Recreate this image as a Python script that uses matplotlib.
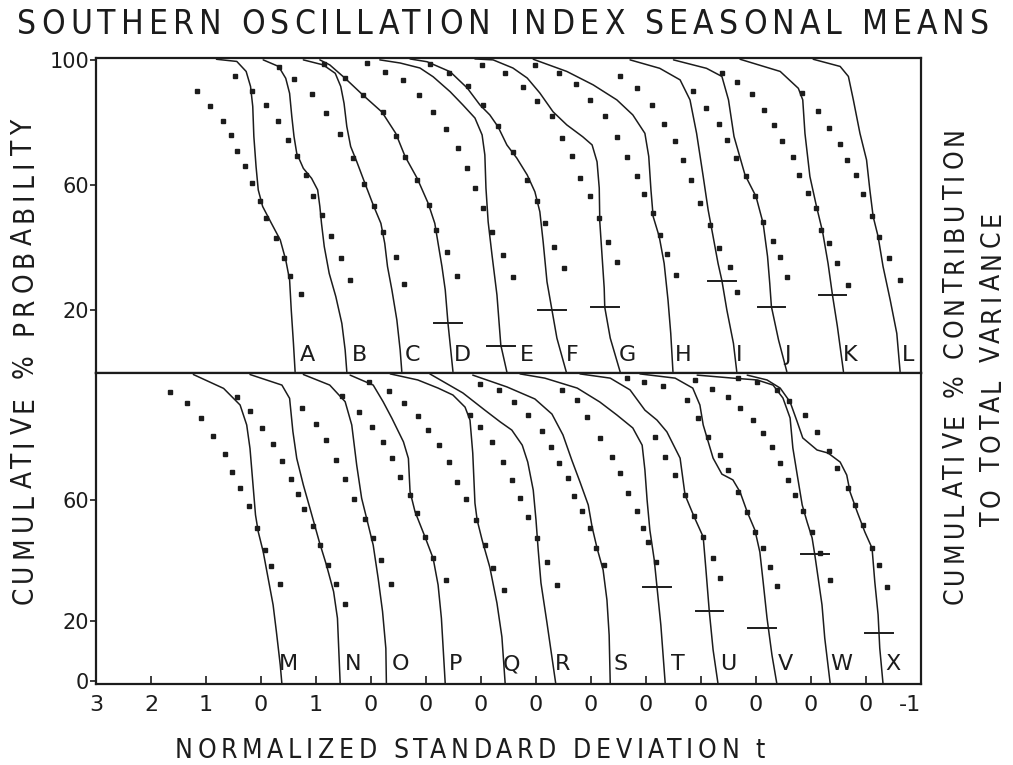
import matplotlib
matplotlib.use("Agg")
import matplotlib.pyplot as plt
from matplotlib.font_manager import FontProperties

# x is read in "tick units" along the shared axis (tick labels below), y in percent
xtick_labels = ['3', '2', '1', '0', '1', '0', '0', '0', '0', '0', '0', '0', '0', '0', '0', '-1']

# ---------------- upper panel: solid curves A-L ----------------
A_u = [2.19, 2.56, 2.73, 2.81, 2.85, 2.87, 2.91, 2.95, 3.03, 3.19, 3.35, 3.45, 3.52, 3.55, 3.59, 3.62]
A_v = [100.2, 99.5, 96.3, 91.5, 85.1, 75.5, 65.9, 58.4, 53.1, 47.7, 42.4, 36.0, 29.6, 20.0, 9.3, 0.3]
B_u = [3.04, 3.32, 3.45, 3.52, 3.56, 3.60, 3.65, 3.77, 3.92, 4.03, 4.07, 4.10, 4.15, 4.24, 4.36, 4.47, 4.53, 4.56]
B_v = [100, 97.9, 94.1, 89.3, 81.9, 75.5, 70.1, 65.3, 62.1, 58.4, 53.1, 47.7, 40.3, 31.7, 24.3, 15.7, 7.2, 0.3]
C_u = [3.77, 4.13, 4.35, 4.45, 4.51, 4.56, 4.63, 4.74, 4.89, 5.04, 5.18, 5.25, 5.30, 5.38, 5.47, 5.53, 5.56]
C_v = [100, 98.4, 95.7, 91.5, 86.1, 78.7, 72.3, 67.5, 60.5, 53.6, 47.7, 41.3, 33.9, 26.4, 16.8, 7.2, 0.3]
D_u = [4.07, 4.25, 4.53, 4.85, 5.20, 5.45, 5.62, 5.84, 6.04, 6.16, 6.22, 6.29, 6.35, 6.40, 6.45, 6.49]
D_v = [100, 98.4, 94.1, 88.8, 83.3, 76.5, 69.1, 62.1, 54.1, 47.7, 41.3, 33.9, 26.4, 15.7, 7.2, 0.3]
E_u = [5.16, 5.53, 5.89, 6.13, 6.44, 6.67, 6.89, 7.02, 7.07, 7.09, 7.13, 7.20, 7.29, 7.36, 7.47]
E_v = [100, 99.0, 97.4, 94.6, 89.8, 85.6, 81.4, 76.0, 69.6, 59.0, 48.2, 37.6, 24.8, 8.8, 0.2]
F_u = [5.71, 6.02, 6.44, 6.75, 6.98, 7.16, 7.31, 7.47, 7.65, 7.84, 7.98, 8.07, 8.13, 8.20, 8.29, 8.38, 8.55]
F_v = [100.3, 99.4, 96.2, 91.0, 85.6, 82.4, 78.6, 72.8, 68.6, 63.2, 57.8, 51.4, 41.8, 29.0, 20.0, 11.0, 0.2]
G_u = [6.89, 7.22, 7.58, 7.84, 8.07, 8.31, 8.56, 8.85, 9.02, 9.11, 9.15, 9.16, 9.20, 9.24, 9.25, 9.35, 9.53]
G_v = [100.3, 100, 97.4, 94.2, 89.4, 83.4, 79.2, 75.4, 72.8, 67.4, 59.0, 48.2, 37.6, 27.0, 20.9, 11.0, 0.2]
H_u = [7.95, 8.56, 9.04, 9.47, 9.76, 9.98, 10.05, 10.09, 10.13, 10.24, 10.33, 10.40, 10.45, 10.49]
H_v = [100.2, 96.3, 92.0, 87.2, 82.4, 76.5, 69.1, 58.4, 49.9, 43.5, 34.9, 23.2, 12.5, 0.3]
I_u = [9.71, 10.25, 10.62, 10.80, 10.92, 11.04, 11.13, 11.22, 11.31, 11.38, 11.47, 11.59, 11.65]
I_v = [100, 97.3, 93.6, 87.2, 76.5, 62.7, 52.0, 43.5, 34.9, 29.4, 20.0, 9.3, 0.3]
J_u = [10.50, 11.10, 11.38, 11.50, 11.60, 11.80, 12.00, 12.13, 12.21, 12.25, 12.28, 12.41, 12.56]
J_v = [100, 97.3, 94.7, 87.2, 75.5, 63.2, 56.3, 47.7, 37.1, 28.5, 21.1, 10.4, 0.3]
K_u = [11.71, 12.44, 12.77, 12.85, 12.89, 12.98, 13.10, 13.21, 13.31, 13.39, 13.48, 13.59]
K_v = [100.2, 96.3, 90.9, 87.2, 76.5, 62.7, 53.1, 45.1, 34.9, 24.8, 14.7, 0.3]
L_u = [13.04, 13.53, 13.68, 13.77, 13.89, 14.01, 14.07, 14.13, 14.22, 14.31, 14.44, 14.56, 14.62]
L_v = [100.2, 97.9, 94.7, 87.2, 76.5, 68.0, 58.4, 49.9, 43.5, 33.9, 23.2, 12.5, 0.3]

# upper panel: dotted series
A_dots_u = [1.83, 2.08, 2.30, 2.45, 2.56, 2.70, 2.84, 2.99, 3.09, 3.28, 3.42, 3.53, 3.72]
A_dots_v = [90.2, 85.1, 80.5, 76.0, 70.9, 66.1, 60.5, 54.9, 49.3, 43.1, 36.5, 31.0, 25.1]
B_dots_u = [2.52, 2.83, 3.09, 3.30, 3.49, 3.66, 3.82, 3.94, 4.10, 4.27, 4.45, 4.61]
B_dots_v = [94.7, 90.2, 85.6, 80.6, 74.4, 69.3, 63.2, 56.3, 50.4, 43.8, 36.7, 29.6]
C_dots_u = [3.32, 3.60, 3.93, 4.18, 4.44, 4.68, 4.87, 5.05, 5.21, 5.45, 5.60]
C_dots_v = [97.7, 93.8, 89.0, 82.9, 76.3, 68.5, 60.3, 53.1, 45.1, 36.9, 28.3]
D_dots_u = [4.15, 4.53, 4.85, 5.21, 5.45, 5.62, 5.84, 6.05, 6.19, 6.38, 6.56]
D_dots_v = [98.7, 94.1, 88.8, 83.2, 75.6, 68.9, 61.6, 53.6, 45.6, 38.4, 31.0]
E_dots_u = [4.93, 5.25, 5.58, 5.87, 6.13, 6.36, 6.58, 6.75, 6.89, 7.04, 7.20, 7.40, 7.58]
E_dots_v = [99.0, 96.2, 93.6, 88.8, 83.4, 77.9, 71.8, 65.4, 59.0, 52.6, 45.0, 37.6, 30.6]
F_dots_u = [6.07, 6.41, 6.77, 7.04, 7.31, 7.59, 7.83, 8.01, 8.16, 8.33, 8.50]
F_dots_v = [98.6, 95.7, 91.5, 85.6, 78.7, 70.5, 61.6, 54.9, 47.7, 40.3, 33.3]
G_dots_u = [7.01, 7.44, 7.77, 8.02, 8.29, 8.47, 8.65, 8.80, 8.98, 9.15, 9.31, 9.48]
G_dots_v = [98.4, 95.7, 91.3, 86.7, 81.9, 75.1, 69.1, 62.3, 56.3, 49.3, 41.9, 35.3]
H_dots_u = [7.98, 8.42, 8.73, 8.98, 9.25, 9.48, 9.66, 9.83, 9.96, 10.12, 10.25, 10.39, 10.55]
H_dots_v = [98.4, 95.7, 92.3, 87.2, 82.1, 75.3, 68.9, 62.7, 57.1, 50.9, 44.0, 37.9, 31.2]
I_dots_u = [9.53, 9.83, 10.10, 10.33, 10.53, 10.67, 10.81, 10.98, 11.16, 11.33, 11.52, 11.66]
I_dots_v = [94.9, 91.0, 85.6, 79.5, 73.9, 68.0, 61.6, 54.1, 47.2, 39.7, 33.7, 25.9]
J_dots_u = [10.85, 11.09, 11.32, 11.47, 11.64, 11.81, 11.98, 12.13, 12.30, 12.44, 12.57]
J_dots_v = [89.9, 84.5, 79.5, 74.4, 68.5, 62.9, 56.3, 48.3, 42.2, 36.9, 30.7]
K_dots_u = [11.38, 11.66, 11.92, 12.15, 12.32, 12.48, 12.67, 12.79, 12.95, 13.09, 13.19, 13.33, 13.48, 13.68]
K_dots_v = [95.7, 92.9, 89.1, 84.0, 79.2, 73.9, 68.9, 63.2, 57.3, 52.5, 45.6, 41.3, 34.9, 28.0]
L_dots_u = [12.83, 13.13, 13.33, 13.53, 13.66, 13.82, 13.95, 14.10, 14.24, 14.42, 14.61]
L_dots_v = [89.3, 83.8, 78.1, 73.1, 68.0, 63.2, 57.1, 50.2, 43.5, 36.5, 29.6]

# ---------------- lower panel: solid curves M-X ----------------
M_u = [1.77, 2.32, 2.62, 2.74, 2.80, 2.85, 2.90, 2.95, 3.04, 3.13, 3.22, 3.28, 3.35, 3.38]
M_v = [101.5, 96.9, 91.4, 84.8, 77.0, 66.0, 55.0, 49.4, 42.8, 34.0, 25.2, 16.3, 5.3, -1.0]
N_u = [2.80, 3.38, 3.52, 3.58, 3.65, 3.77, 3.89, 4.06, 4.19, 4.32, 4.39, 4.44]
N_v = [101.5, 98.0, 93.6, 82.6, 73.7, 64.9, 57.2, 46.1, 38.4, 29.6, 20.8, -1.0]
O_u = [3.77, 4.25, 4.53, 4.65, 4.74, 4.83, 4.92, 5.04, 5.13, 5.21, 5.27, 5.28]
O_v = [101.5, 98.0, 92.5, 84.8, 71.5, 60.5, 53.9, 45.0, 34.0, 23.0, 10.8, -1.0]
P_u = [4.62, 5.04, 5.22, 5.38, 5.59, 5.68, 5.71, 5.80, 5.98, 6.13, 6.22, 6.28, 6.35]
P_v = [101.3, 98.0, 92.5, 87.0, 79.2, 73.7, 62.7, 56.1, 47.8, 40.6, 31.8, 20.8, -1.0]
Q_u = [5.35, 5.85, 6.22, 6.49, 6.71, 6.80, 6.85, 6.89, 6.93, 7.02, 7.16, 7.29, 7.38, 7.44]
Q_v = [101.7, 99.7, 97.0, 94.7, 90.7, 86.4, 75.5, 58.9, 53.3, 46.7, 37.7, 25.8, 14.6, -1.0]
R_u = [6.07, 6.67, 7.07, 7.35, 7.56, 7.75, 7.85, 7.95, 8.00, 8.04, 8.09, 8.20, 8.36]
R_v = [101.7, 95.4, 89.7, 85.8, 83.1, 78.1, 72.5, 63.2, 53.3, 43.4, 32.5, 19.2, -1.0]
S_u = [6.85, 7.47, 7.98, 8.29, 8.49, 8.65, 8.80, 8.95, 9.02, 9.11, 9.22, 9.29, 9.33, 9.35]
S_v = [101.3, 97.4, 93.4, 88.4, 81.5, 73.2, 65.9, 58.3, 51.0, 44.0, 36.8, 26.8, 15.2, -1.0]
T_u = [7.71, 8.16, 8.75, 9.16, 9.47, 9.76, 9.93, 9.98, 10.02, 10.07, 10.15, 10.20, 10.27, 10.35]
T_v = [101.7, 100.3, 97.0, 92.4, 88.1, 83.8, 78.1, 69.9, 59.9, 50.0, 40.1, 31.1, 18.5, -1.0]
U_u = [8.80, 9.35, 9.71, 9.98, 10.20, 10.38, 10.62, 10.71, 10.87, 11.04, 11.09, 11.15, 11.22, 11.31]
U_v = [101.7, 100.3, 96.4, 89.7, 86.4, 82.5, 73.8, 61.6, 54.6, 47.7, 36.8, 23.2, 10.3, -1.0]
V_u = [9.89, 10.53, 10.85, 10.98, 11.04, 11.22, 11.38, 11.58, 11.71, 11.84, 11.98, 12.07, 12.13, 12.20, 12.29, 12.38]
V_v = [101.7, 100.3, 97.0, 91.4, 84.8, 73.8, 68.5, 66.6, 62.6, 56.0, 50.0, 42.7, 32.8, 20.9, 8.6, -1.0]
W_u = [10.93, 11.58, 12.02, 12.31, 12.49, 12.62, 12.67, 12.75, 12.84, 12.93, 13.02, 13.07, 13.13, 13.20, 13.25, 13.35]
W_v = [101.3, 100.3, 99.7, 98.0, 93.7, 87.1, 77.2, 68.2, 58.3, 52.6, 47.4, 41.7, 34.1, 25.2, 14.2, -1.0]
X_u = [11.84, 12.20, 12.44, 12.62, 12.75, 12.85, 13.11, 13.31, 13.53, 13.65, 13.71, 13.84, 13.98, 14.11, 14.16, 14.22, 14.25, 14.31]
X_v = [101.3, 99.7, 97.0, 92.4, 85.8, 80.5, 76.5, 75.5, 72.5, 68.2, 62.6, 56.0, 49.3, 44.0, 32.8, 21.9, 10.9, -1.0]

# lower panel: dotted series
M_dots_u = [1.35, 1.65, 1.91, 2.13, 2.35, 2.48, 2.62, 2.78, 2.93, 3.08, 3.18, 3.35]
M_dots_v = [95.8, 91.9, 87.2, 81.2, 75.1, 69.3, 64.0, 58.1, 50.8, 43.4, 38.1, 32.1]
N_dots_u = [2.56, 2.80, 3.01, 3.22, 3.38, 3.54, 3.68, 3.79, 3.94, 4.07, 4.21, 4.36, 4.53]
N_dots_v = [94.2, 89.4, 83.9, 78.4, 72.8, 66.9, 61.8, 57.0, 51.4, 45.0, 38.4, 32.0, 25.5]
O_dots_u = [3.74, 4.00, 4.19, 4.37, 4.53, 4.69, 4.89, 5.03, 5.19, 5.36]
O_dots_v = [90.3, 85.0, 79.8, 73.2, 66.9, 60.3, 53.6, 47.5, 40.1, 32.1]
P_dots_u = [4.47, 4.79, 5.01, 5.22, 5.38, 5.52, 5.70, 5.83, 5.98, 6.12, 6.36]
P_dots_v = [94.5, 89.0, 84.2, 79.0, 73.7, 67.7, 61.6, 55.5, 47.8, 40.8, 33.4]
Q_dots_u = [4.97, 5.33, 5.60, 5.85, 6.04, 6.24, 6.41, 6.56, 6.73, 6.91, 7.07, 7.21, 7.41]
Q_dots_v = [99.1, 96.0, 91.9, 87.9, 83.1, 78.1, 72.6, 66.0, 60.3, 53.3, 45.0, 37.5, 30.1]
R_dots_u = [6.80, 6.98, 7.20, 7.40, 7.56, 7.71, 7.85, 8.02, 8.20, 8.38]
R_dots_v = [88.1, 84.1, 79.1, 72.5, 66.6, 60.6, 54.3, 47.4, 39.4, 31.8]
S_dots_u = [6.98, 7.33, 7.60, 7.85, 8.11, 8.27, 8.42, 8.58, 8.69, 8.84, 8.98, 9.09, 9.24]
S_dots_v = [98.3, 96.4, 92.4, 88.1, 82.8, 77.5, 72.2, 67.2, 61.3, 56.3, 50.7, 44.0, 38.4]
T_dots_u = [8.47, 8.75, 8.93, 9.16, 9.38, 9.53, 9.67, 9.84, 9.95, 10.04, 10.18]
T_dots_v = [96.4, 93.0, 87.4, 80.5, 74.2, 68.9, 62.3, 56.3, 50.7, 46.0, 39.4]
U_dots_u = [9.65, 9.96, 10.31, 10.16, 10.35, 10.53, 10.71, 10.87, 11.04, 11.22, 11.35]
U_dots_v = [100.3, 99.0, 97.7, 80.8, 74.2, 68.2, 61.6, 54.6, 47.7, 40.7, 34.1]
V_dots_u = [10.75, 10.95, 11.13, 11.35, 11.49, 11.67, 11.84, 11.98, 12.13, 12.25, 12.38]
V_dots_v = [93.0, 87.1, 80.8, 74.8, 69.9, 62.6, 56.0, 49.3, 44.0, 37.7, 31.5]
W_dots_u = [10.89, 11.20, 11.49, 11.71, 11.95, 12.13, 12.29, 12.44, 12.58, 12.71, 12.85, 13.02, 13.16, 13.35]
W_dots_v = [99.7, 96.7, 94.0, 90.4, 86.4, 82.1, 77.5, 72.2, 66.6, 61.6, 56.3, 49.3, 42.4, 33.4]
X_dots_u = [11.67, 12.02, 12.38, 12.60, 12.89, 13.11, 13.33, 13.47, 13.67, 13.80, 13.95, 14.11, 14.24, 14.38]
X_dots_v = [100.3, 99.0, 96.4, 92.7, 88.1, 82.5, 76.2, 70.5, 63.9, 58.3, 51.7, 44.0, 38.4, 31.1]

# curve letters and their positions
top_letters = ['A', 'B', 'C', 'D', 'E', 'F', 'G', 'H', 'I', 'J', 'K', 'L']
top_letter_u = [3.85, 4.80, 5.76, 6.67, 7.84, 8.65, 9.67, 10.67, 11.69, 12.58, 13.71, 14.76]
bot_letters = ['M', 'N', 'O', 'P', 'Q', 'R', 'S', 'T', 'U', 'V', 'W', 'X']
bot_letter_u = [3.49, 4.67, 5.53, 6.53, 7.56, 8.49, 9.53, 10.58, 11.49, 12.53, 13.55, 14.49]

# short horizontal bars crossing some curves
top_bar_u = [6.40, 7.36, 8.29, 9.25, 11.38, 12.28, 13.39]
top_bar_v = [15.8, 8.5, 20.0, 21.0, 29.4, 21.1, 24.8]
bot_bar_u = [10.20, 11.15, 12.11, 13.07, 14.24]
bot_bar_v = [31.1, 23.2, 17.5, 42.0, 15.9]

top_curves = [(A_u, A_v), (B_u, B_v), (C_u, C_v), (D_u, D_v), (E_u, E_v), (F_u, F_v),
              (G_u, G_v), (H_u, H_v), (I_u, I_v), (J_u, J_v), (K_u, K_v), (L_u, L_v)]
top_dots = [(A_dots_u, A_dots_v), (B_dots_u, B_dots_v), (C_dots_u, C_dots_v), (D_dots_u, D_dots_v),
            (E_dots_u, E_dots_v), (F_dots_u, F_dots_v), (G_dots_u, G_dots_v), (H_dots_u, H_dots_v),
            (I_dots_u, I_dots_v), (J_dots_u, J_dots_v), (K_dots_u, K_dots_v), (L_dots_u, L_dots_v)]
bot_curves = [(M_u, M_v), (N_u, N_v), (O_u, O_v), (P_u, P_v), (Q_u, Q_v), (R_u, R_v),
              (S_u, S_v), (T_u, T_v), (U_u, U_v), (V_u, V_v), (W_u, W_v), (X_u, X_v)]
bot_dots = [(M_dots_u, M_dots_v), (N_dots_u, N_dots_v), (O_dots_u, O_dots_v), (P_dots_u, P_dots_v),
            (Q_dots_u, Q_dots_v), (R_dots_u, R_dots_v), (S_dots_u, S_dots_v), (T_dots_u, T_dots_v),
            (U_dots_u, U_dots_v), (V_dots_u, V_dots_v), (W_dots_u, W_dots_v), (X_dots_u, X_dots_v)]

ink = '#1c1c1c'
W_PX, H_PX = 1013, 765
fig = plt.figure(figsize=(W_PX / 100, H_PX / 100), dpi=100)
fig.patch.set_facecolor('white')

left, right = 96, 921
ax_top = fig.add_axes([left / W_PX, 1 - 373 / H_PX, (right - left) / W_PX, (373 - 58) / H_PX])
ax_bot = fig.add_axes([left / W_PX, 1 - 684 / H_PX, (right - left) / W_PX, (684 - 373) / H_PX])


def draw_panel(ax, curves, dots, letters, letter_u, bar_u, bar_v, ylim, yticks):
    for u, v in curves:
        ax.plot(u, v, color=ink, lw=1.1, solid_capstyle='round', zorder=3)
    for u, v in dots:
        ax.plot(u, v, ls='none', marker='s', ms=3.4, color=ink, mec=ink, zorder=4)
    for u, v in zip(bar_u, bar_v):
        ax.plot([u - 0.25, u + 0.25], [v, v], color=ink, lw=1.4, zorder=4)
    for s, u in zip(letters, letter_u):
        ax.text(u, 5.5, s, fontsize=16, color=ink, ha='center', va='center', zorder=5)
    ax.set_xlim(0, 15)
    ax.set_ylim(*ylim)
    ax.set_yticks(yticks)
    ax.set_yticklabels([str(t) for t in yticks], fontsize=15, color=ink)
    ax.tick_params(axis='y', direction='out', length=4, width=1.2, pad=1, colors=ink)
    for sp in ax.spines.values():
        sp.set_linewidth(1.6)
        sp.set_color(ink)


draw_panel(ax_top, top_curves, top_dots, top_letters, top_letter_u, top_bar_u, top_bar_v,
           (-0.16, 100.6), [20, 60, 100])
draw_panel(ax_bot, bot_curves, bot_dots, bot_letters, bot_letter_u, bot_bar_u, bot_bar_v,
           (-1.0, 102.0), [0, 20, 60])

ax_top.set_xticks([])
ax_bot.set_xticks(range(len(xtick_labels)))
ax_bot.set_xticklabels(xtick_labels, fontsize=16, color=ink)
ax_bot.get_xticklabels()[-1].set_horizontalalignment('right')
ax_bot.tick_params(axis='x', direction='in', length=6, width=1.2, pad=8, colors=ink)

# the hand lettering is tall, narrow and widely spaced: lay the letters out one by one
renderer = fig.canvas.get_renderer()


def spaced_text(s, cx, cy, length, size, vertical=False):
    fp = FontProperties(family='DejaVu Sans', size=size, stretch='condensed')

    def width(t):
        return renderer.get_text_width_height_descent(t, fp, ismath=False)[0]

    extra = (length - width(s)) / (len(s) - 1)
    cap = 0.73 * size * 100 / 72
    for i, ch in enumerate(s):
        if ch == ' ':
            continue
        off = -length / 2 + width(s[:i + 1]) - width(ch) + extra * i
        if vertical:
            fig.text((cx + cap / 2) / W_PX, 1 - (cy - off) / H_PX, ch, rotation=90,
                     rotation_mode='anchor', ha='left', va='baseline', fontproperties=fp, color=ink)
        else:
            fig.text((cx + off) / W_PX, 1 - (cy + cap / 2) / H_PX, ch, ha='left', va='baseline',
                     fontproperties=fp, color=ink)


spaced_text('SOUTHERN OSCILLATION INDEX SEASONAL MEANS', 503, 22, 972, 24)
spaced_text('CUMULATIVE % PROBABILITY', 22, 362, 485, 20, vertical=True)
spaced_text('CUMULATIVE % CONTRIBUTION', 953, 366, 477, 19, vertical=True)
spaced_text('TO TOTAL VARIANCE', 990, 368, 315, 19, vertical=True)
spaced_text('NORMALIZED STANDARD DEVIATION t', 470, 748, 590, 19)

fig.savefig('out.png', dpi=100, facecolor='white')
